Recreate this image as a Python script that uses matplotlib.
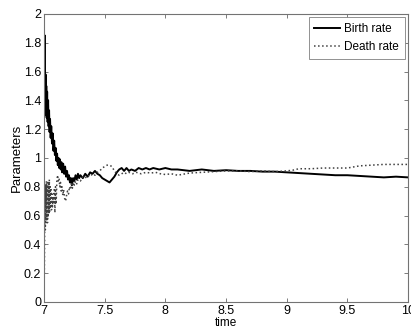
import matplotlib.pyplot as plt

plt.rcParams['font.family'] = ['Liberation Sans', 'DejaVu Sans']

# Birth rate (solid)
birth_t = [7.000, 7.004, 7.007, 7.010, 7.013, 7.016, 7.019, 7.022, 7.026, 7.030,
           7.034, 7.038, 7.042, 7.046, 7.050, 7.055, 7.060, 7.066, 7.072, 7.078,
           7.084, 7.090, 7.096, 7.102, 7.108, 7.114, 7.120, 7.126, 7.132, 7.138,
           7.144, 7.150, 7.158, 7.166, 7.174, 7.182, 7.190, 7.198, 7.206, 7.214,
           7.222, 7.230, 7.240, 7.250, 7.26, 7.27, 7.28, 7.29, 7.30, 7.32,
           7.34, 7.36, 7.38, 7.40, 7.42, 7.44, 7.46, 7.48, 7.50, 7.52,
           7.54, 7.56, 7.58, 7.60, 7.62, 7.64, 7.66, 7.68, 7.70, 7.72,
           7.75, 7.78, 7.81, 7.84, 7.87, 7.90, 7.95, 8.00, 8.05, 8.10,
           8.20, 8.30, 8.40, 8.50, 8.60, 8.70, 8.80, 8.90, 9.00, 9.10,
           9.20, 9.30, 9.40, 9.50, 9.60, 9.70, 9.80, 9.90, 10.0]
birth_v = [1.90, 1.55, 1.85, 1.40, 1.58, 1.30, 1.50, 1.28, 1.46, 1.25,
           1.40, 1.22, 1.33, 1.18, 1.27, 1.14, 1.22, 1.10, 1.17, 1.05,
           1.12, 1.02, 1.07, 0.98, 1.03, 0.95, 1.00, 0.93, 0.99, 0.92,
           0.97, 0.90, 0.96, 0.89, 0.94, 0.87, 0.91, 0.85, 0.88, 0.83,
           0.86, 0.81, 0.86, 0.84, 0.88, 0.85, 0.89, 0.86, 0.88, 0.86,
           0.89, 0.87, 0.90, 0.89, 0.91, 0.89, 0.88, 0.86, 0.85, 0.84,
           0.83, 0.85, 0.87, 0.90, 0.92, 0.93, 0.91, 0.93, 0.91, 0.92,
           0.91, 0.93, 0.92, 0.93, 0.92, 0.93, 0.92, 0.93, 0.92, 0.92,
           0.91, 0.92, 0.91, 0.915, 0.91, 0.91, 0.905, 0.905, 0.90, 0.895,
           0.89, 0.885, 0.88, 0.88, 0.875, 0.87, 0.865, 0.87, 0.865]

# Death rate (dotted)
death_t = [7.000, 7.004, 7.008, 7.011, 7.014, 7.017, 7.020, 7.023, 7.026, 7.029,
           7.032, 7.035, 7.038, 7.041, 7.044, 7.047, 7.050, 7.054, 7.058, 7.062,
           7.066, 7.070, 7.075, 7.080, 7.085, 7.090, 7.095, 7.100, 7.106, 7.112,
           7.118, 7.124, 7.130, 7.136, 7.142, 7.148, 7.155, 7.162, 7.170, 7.178,
           7.186, 7.194, 7.202, 7.210, 7.218, 7.226, 7.234, 7.242, 7.25, 7.26,
           7.27, 7.28, 7.30, 7.32, 7.34, 7.36, 7.38, 7.40, 7.42, 7.44,
           7.46, 7.48, 7.50, 7.52, 7.54, 7.56, 7.58, 7.60, 7.62, 7.64,
           7.66, 7.68, 7.70, 7.73, 7.76, 7.80, 7.84, 7.88, 7.92, 7.96,
           8.00, 8.05, 8.10, 8.20, 8.30, 8.40, 8.50, 8.60, 8.70, 8.80,
           8.90, 9.00, 9.05, 9.10, 9.20, 9.30, 9.40, 9.50, 9.60, 9.70,
           9.80, 9.90, 10.0]
death_v = [0.00, 0.30, 0.80, 0.50, 0.82, 0.55, 0.84, 0.57, 0.80, 0.55,
           0.83, 0.60, 0.82, 0.62, 0.85, 0.63, 0.80, 0.65, 0.78, 0.64,
           0.75, 0.66, 0.73, 0.68, 0.78, 0.62, 0.80, 0.68, 0.84, 0.88,
           0.84, 0.86, 0.80, 0.83, 0.77, 0.80, 0.74, 0.78, 0.72, 0.70,
           0.74, 0.77, 0.75, 0.80, 0.78, 0.82, 0.79, 0.83, 0.81, 0.84,
           0.82, 0.85, 0.84, 0.87, 0.86, 0.88, 0.87, 0.89, 0.88, 0.90,
           0.91, 0.93, 0.94, 0.95, 0.95, 0.94, 0.91, 0.89, 0.88, 0.89,
           0.90, 0.89, 0.90, 0.89, 0.90, 0.89, 0.90, 0.895, 0.90, 0.89,
           0.885, 0.89, 0.88, 0.895, 0.90, 0.905, 0.91, 0.91, 0.905, 0.91,
           0.905, 0.91, 0.915, 0.925, 0.925, 0.93, 0.93, 0.93, 0.945, 0.95,
           0.955, 0.955, 0.955]

xticks = [7, 7.5, 8, 8.5, 9, 9.5, 10]
xticklabels = ['7', '7.5', '8', '8.5', '9', '9.5', '10']
yticks = [0, 0.2, 0.4, 0.6, 0.8, 1, 1.2, 1.4, 1.6, 1.8, 2]
yticklabels = ['0', '0.2', '0.4', '0.6', '0.8', '1', '1.2', '1.4', '1.6', '1.8', '2']

fig = plt.figure(figsize=(4.11, 3.27), dpi=100)
ax = fig.add_axes([0.107, 0.0765, 0.886, 0.881])

ax.plot(birth_t, birth_v, color='black', linewidth=1.4, label='Birth rate')
ax.plot(death_t, death_v, color='0.25', linewidth=1.1, linestyle=':', label='Death rate')

ax.set_xlim(7, 10)
ax.set_ylim(0, 2)
ax.set_xticks(xticks)
ax.set_xticklabels(xticklabels)
ax.set_yticks(yticks)
ax.set_yticklabels(yticklabels)
ax.tick_params(direction='in', top=True, right=True, labelsize=9, length=3,
               width=0.6, color='0.4', pad=2)
for sp in ax.spines.values():
    sp.set_color('0.45')
    sp.set_linewidth(0.8)

ax.set_xlabel('time', fontsize=8.5, labelpad=0)
ax.set_ylabel('Parameters', fontsize=9.5, labelpad=1)

leg = ax.legend(loc='upper right', fontsize=8.5, fancybox=False, framealpha=1,
                edgecolor='0.5', handlelength=2.2, handletextpad=0.3,
                borderpad=0.5, labelspacing=0.5, borderaxespad=0.3)
leg.get_frame().set_linewidth(0.6)

fig.savefig('out.png', dpi=100)
